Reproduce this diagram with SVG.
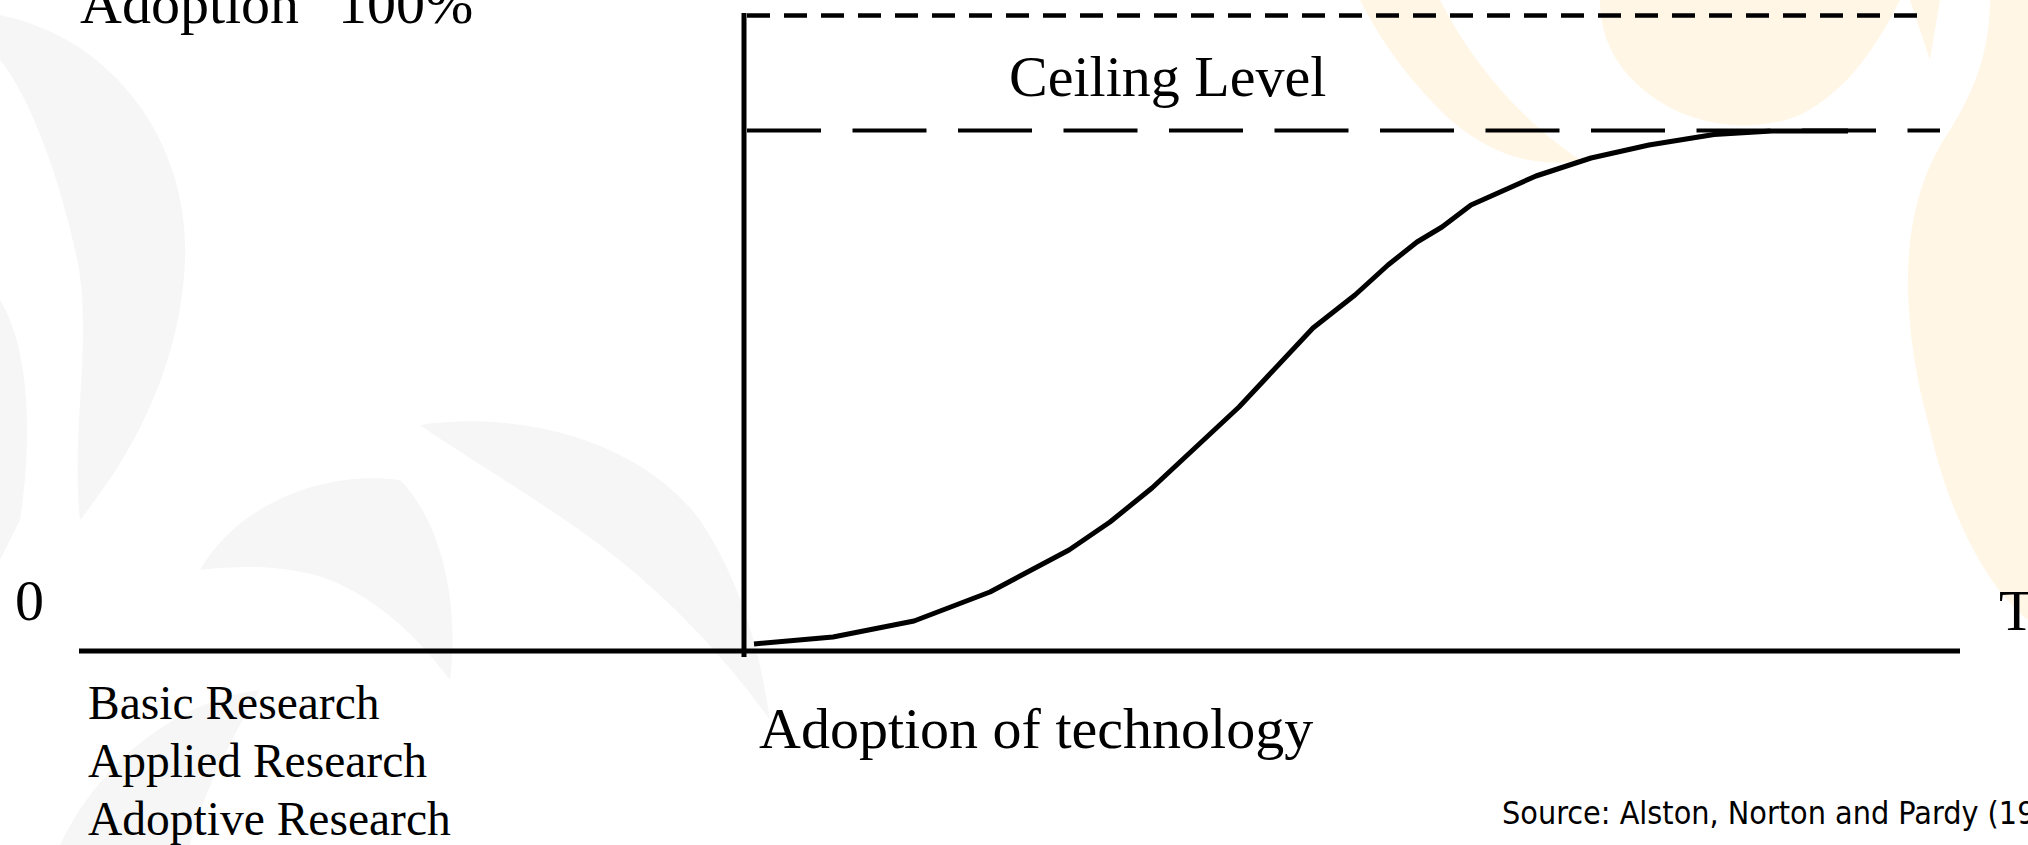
<svg xmlns="http://www.w3.org/2000/svg" width="2028" height="845" viewBox="0 0 2028 845">
  <style>
    .serif { font-family: "Liberation Serif", "Times New Roman", serif; fill: #000; }
    .big { font-size: 58px; }
    .mid { font-size: 47.5px; }
    .src { font-family: "DejaVu Sans Condensed", "DejaVu Sans", sans-serif; font-size: 32px; fill: #000; }
    .axis { stroke: #000; stroke-width: 5; fill: none; }
    .gray { fill: #f6f6f6; }
    .cream { fill: #fff6e6; }
  </style>
  <rect x="0" y="0" width="2028" height="845" fill="#ffffff"/>
  <g id="background">
    <path class="gray" d="M0,15 C120,40 190,150 185,260 C180,380 120,470 80,520 C70,430 95,330 75,250 C55,160 25,90 0,60 Z"/>
    <path class="gray" d="M0,300 C25,340 35,420 20,520 L0,560 Z"/>
    <path class="gray" d="M200,570 C240,500 330,470 400,480 C440,520 460,600 450,680 C420,640 380,600 330,580 C290,565 240,565 200,570 Z"/>
    <path class="gray" d="M420,425 C520,410 640,440 700,520 C740,580 760,650 770,720 C720,650 660,590 600,545 C540,500 470,460 420,425 Z"/>
    <path class="gray" d="M60,845 C100,760 180,700 260,690 C230,740 200,800 190,845 Z"/>
    <path class="cream" d="M1360,0 L1440,0 C1470,60 1520,120 1580,160 C1530,170 1480,150 1440,110 C1400,70 1375,30 1360,0 Z"/>
    <path class="cream" d="M1600,0 L1900,0 C1880,40 1850,90 1800,115 C1750,135 1690,125 1650,95 C1610,65 1600,30 1600,0 Z"/>
    <path class="cream" d="M1910,0 L1940,0 L1930,60 Z"/>
    <path class="cream" d="M2028,0 L2028,620 C1990,590 1950,520 1930,430 C1900,320 1895,210 1950,130 C1975,90 1990,50 1990,0 Z"/>
  </g>
  <g id="connectors">
    <line class="axis" x1="744" y1="13" x2="744" y2="657"/>
    <line class="axis" x1="79" y1="651" x2="1960" y2="651"/>
    <line x1="747" y1="15.5" x2="1924" y2="15.5" stroke="#000" stroke-width="4.5" stroke-dasharray="23 14"/>
    <line x1="747" y1="130.5" x2="1940" y2="130.5" stroke="#000" stroke-width="4" stroke-dasharray="74 31.5"/>
    <polyline fill="none" stroke="#000" stroke-width="5" stroke-linejoin="round" points="754,644 833,637 914,621 990,592 1069,550 1110,522 1152,488 1239,407 1313,328 1355,295 1388,265 1417,242 1442,227 1471,205 1536,176 1591,158 1649,145 1714,134.5 1772,131 1848,131"/>
  </g>
  <g id="label-y">
    <text class="serif big" y="22.7"><tspan x="80">Adoption</tspan><tspan x="338">100%</tspan></text>
  </g>
  <g id="label-ceiling">
    <text class="serif big" x="1009" y="96">Ceiling Level</text>
  </g>
  <g id="label-zero">
    <text class="serif big" x="15" y="620">0</text>
  </g>
  <g id="label-t">
    <text class="serif big" x="1999" y="630">T</text>
  </g>
  <g id="label-research">
    <text class="serif mid" x="88" y="719">Basic Research</text>
    <text class="serif mid" x="88" y="777">Applied Research</text>
    <text class="serif mid" x="88" y="835">Adoptive Research</text>
  </g>
  <g id="label-adoption">
    <text class="serif big" x="759" y="748">Adoption of technology</text>
  </g>
  <g id="label-source">
    <text class="src" x="1502" y="824">Source: Alston, Norton and Pardy (19</text>
  </g>
</svg>
